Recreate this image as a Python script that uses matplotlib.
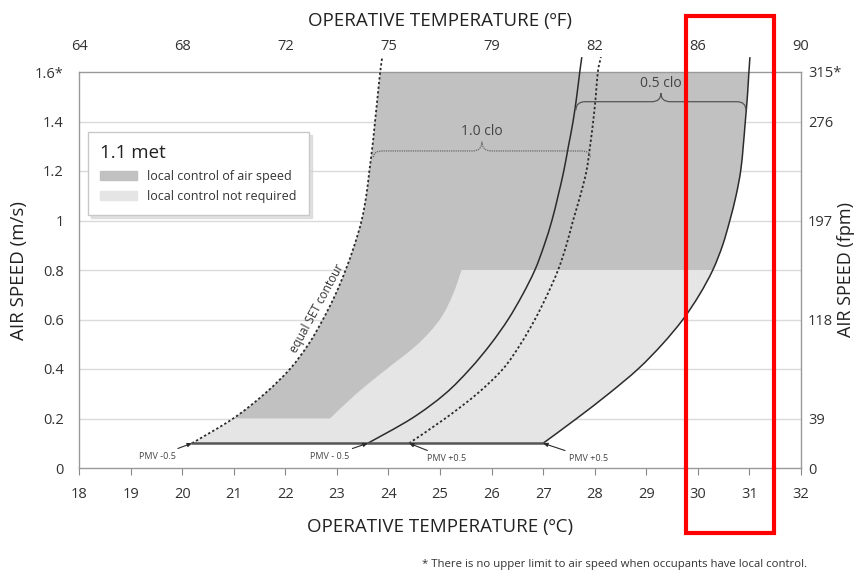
import numpy as np
import matplotlib
matplotlib.use("Agg")
import matplotlib.pyplot as plt
from matplotlib.patches import Patch, Rectangle, PathPatch
from matplotlib.path import Path

plt.rcParams['font.family'] = ['Open Sans', 'DejaVu Sans']

# air speed levels (m/s) at which the comfort curves were read; 1.66 is the stub above the frame
speed = [0.1, 0.2, 0.3, 0.4, 0.5, 0.6, 0.7, 0.8, 0.9, 1.0, 1.1, 1.2, 1.3, 1.4, 1.5, 1.6, 1.66]

# operative temperature (C) of each curve
set_contour = [20.19, 20.99, 21.60, 22.09, 22.45, 22.73, 22.97, 23.17, 23.34, 23.48,
               23.57, 23.63, 23.69, 23.74, 23.79, 23.84, 23.88]          # 1.0 clo, PMV -0.5
pmv_lo_05clo = [23.60, 24.45, 25.10, 25.58, 25.98, 26.32, 26.60, 26.84, 27.02, 27.17,
                27.29, 27.40, 27.49, 27.58, 27.65, 27.71, 27.75]          # 0.5 clo, PMV -0.5
pmv_hi_10clo = [24.40, 25.10, 25.72, 26.22, 26.56, 26.84, 27.08, 27.29, 27.45, 27.58,
                27.72, 27.84, 27.91, 27.97, 28.02, 28.06, 28.12]          # 1.0 clo, PMV +0.5
pmv_hi_05clo = [27.00, 27.65, 28.27, 28.84, 29.31, 29.71, 30.03, 30.29, 30.48, 30.62,
                30.74, 30.83, 30.88, 30.92, 30.96, 30.99, 31.01]          # 0.5 clo, PMV +0.5

# edge between "local control" and "not required" areas
inner_speed = [0.2, 0.3, 0.4, 0.5, 0.6, 0.7, 0.8]
inner_temp = [22.87, 23.38, 23.97, 24.57, 25.00, 25.25, 25.42]

BASE_SPEED = 0.1     # lower limit of the zone
CONTROL_SPEED = 0.8  # top of the "not required" area

pmv_labels = ['PMV -0.5', 'PMV - 0.5', 'PMV +0.5', 'PMV +0.5']

x_ticks = list(range(18, 33))
f_ticks_c = [18, 20, 22, 24, 26, 28, 30, 32]
f_labels = ['64', '68', '72', '75', '79', '82', '86', '90']
y_ticks = [0, 0.2, 0.4, 0.6, 0.8, 1.0, 1.2, 1.4, 1.6]
y_labels = ['0', '0.2', '0.4', '0.6', '0.8', '1', '1.2', '1.4', '1.6*']
fpm_ticks = [0, 0.2, 0.6, 1.0, 1.4, 1.6]
fpm_labels = ['0', '39', '118', '197', '276', '315*']

DARK = '#c1c1c1'
LIGHT = '#e5e5e5'
INK = '#2b2b2b'
TXT = '#333333'


def spline_segments(xs, ys):
    # smooth cubic pieces through the read points (Catmull-Rom -> Bezier)
    p = np.column_stack([xs, ys]).astype(float)
    ext = np.vstack([p[0], p, p[-1]])
    out = []
    for i in range(len(p) - 1):
        a, b, c, d = ext[i], ext[i + 1], ext[i + 2], ext[i + 3]
        out.append((b, b + (c - a) / 6, c - (d - b) / 6, c))
    return out


def reverse(segs):
    return [(s[3], s[2], s[1], s[0]) for s in segs[::-1]]


def build_path(parts, start=None, close=False):
    verts, codes = [], []
    if start is not None:
        verts.append(start)
        codes.append(Path.MOVETO)
    for part in parts:
        verts.append(part[0][0])
        codes.append(Path.LINETO if verts[:-1] else Path.MOVETO)
        for s in part:
            verts += [s[1], s[2], s[3]]
            codes += [Path.CURVE4] * 3
    if close:
        verts.append(verts[0])
        codes.append(Path.CLOSEPOLY)
    return Path(verts, codes)


fig = plt.figure(figsize=(8.59, 5.73), dpi=100)
ax = fig.add_axes([79 / 859, 105 / 573, 722 / 859, 396 / 573])
ax.set_xlim(18, 32)
ax.set_ylim(0, 1.6)

# grid
for yv in y_ticks[1:-1]:
    ax.axhline(yv, color='#dadada', lw=1, zorder=0)

A = spline_segments(set_contour, speed)
B = spline_segments(pmv_lo_05clo, speed)
C = spline_segments(pmv_hi_10clo, speed)
D = spline_segments(pmv_hi_05clo, speed)
E = spline_segments(inner_temp, inner_speed)
k8 = speed.index(CONTROL_SPEED)

# light area: below 0.8 m/s, inside the PMV range
light = build_path([D[:k8], reverse(E), reverse(A[:1])],
                   start=(set_contour[0], BASE_SPEED), close=True)
ax.add_patch(PathPatch(light, fc=LIGHT, lw=0, zorder=1))

# dark area: needs local control of air speed
dark = build_path([A[1:], reverse(D[k8:]), reverse(E)], close=True)
ax.add_patch(PathPatch(dark, fc=DARK, lw=0, zorder=1))

# curves
dots = (0, (1.3, 1.3))
for segs, style, lw in [(A, dots, 1.3), (C, dots, 1.3), (B, '-', 1.1), (D, '-', 1.1)]:
    ax.add_patch(PathPatch(build_path([segs]), fill=False, ec=INK, lw=lw, ls=style,
                           zorder=3, clip_on=False))
ax.plot([set_contour[0], pmv_hi_05clo[0]], [BASE_SPEED, BASE_SPEED],
        color='#555555', lw=1.8, zorder=3)

# PMV call-outs
offsets = [(-35, -13), (-38, -13), (38, -15), (45, -15)]
pmv_x = [set_contour[0], pmv_lo_05clo[0], pmv_hi_10clo[0], pmv_hi_05clo[0]]
for lab, xp, off in zip(pmv_labels, pmv_x, offsets):
    ax.annotate(lab, xy=(xp, BASE_SPEED), xytext=off, textcoords='offset pixels',
                ha='center', va='center', fontsize=6.5, color='#444444', zorder=5,
                arrowprops=dict(arrowstyle='-|>,head_length=0.4,head_width=0.18',
                                color=INK, lw=0.8, shrinkA=1, shrinkB=0))


def brace(x0, x1, y, depth, height, r, **kw):
    xm = (x0 + x1) / 2
    verts = [(x0, y - depth), (x0, y), (x0 + r, y),
             (xm - r, y), (xm, y), (xm, y + height),
             (xm, y), (xm + r, y),
             (x1 - r, y), (x1, y), (x1, y - depth)]
    codes = [Path.MOVETO, Path.CURVE3, Path.CURVE3,
             Path.LINETO, Path.CURVE3, Path.CURVE3,
             Path.CURVE3, Path.CURVE3,
             Path.LINETO, Path.CURVE3, Path.CURVE3]
    ax.add_patch(PathPatch(Path(verts, codes), fill=False, zorder=4, **kw))
    return xm


y10 = 1.281
xm = brace(np.interp(y10, speed, set_contour) + 0.03, np.interp(y10, speed, pmv_hi_10clo) + 0.02,
           y10, 0.025, 0.037, 0.18, ec='#666666', lw=0.9, ls=(0, (1, 0.8)))
ax.text(xm, y10 + 0.05, '1.0 clo', ha='center', va='bottom', fontsize=10, color='#444444', zorder=5)

y05 = 1.48
xm = brace(np.interp(y05, speed, pmv_lo_05clo), np.interp(y05, speed, pmv_hi_05clo) - 0.02,
           y05, 0.034, 0.034, 0.18, ec='#555555', lw=0.9)
ax.text(xm, y05 + 0.045, '0.5 clo', ha='center', va='bottom', fontsize=10, color='#444444', zorder=5)

ax.text(22.62, 0.646, 'equal SET contour', rotation=61.4, rotation_mode='anchor',
        ha='center', va='center', fontsize=8.5, color='#333333', zorder=5)

# axes styling
for s in ax.spines.values():
    s.set_color('#999999')
    s.set_linewidth(1)
ax.set_xticks(x_ticks)
ax.set_xticklabels([str(t) for t in x_ticks])
ax.set_yticks(y_ticks)
ax.set_yticklabels(y_labels)
ax.tick_params(axis='x', length=5, color='#888888', pad=9, labelsize=10.5, labelcolor=TXT)
ax.tick_params(axis='y', length=0, pad=11, labelsize=10.5, labelcolor=TXT)
ax.set_xlabel('OPERATIVE TEMPERATURE (ºC)', fontsize=13.5, color='#222222', labelpad=11)
ax.set_ylabel('AIR SPEED (m/s)', fontsize=13.5, color='#222222', labelpad=5)

top = ax.secondary_xaxis('top')
top.set_xticks(f_ticks_c)
top.set_xticklabels(f_labels)
top.tick_params(length=0, pad=13, labelsize=10.5, labelcolor=TXT)
top.set_xlabel('OPERATIVE TEMPERATURE (ºF)', fontsize=13.5, color='#222222', labelpad=9)
top.spines['top'].set_visible(False)

right = ax.secondary_yaxis('right')
right.set_yticks(fpm_ticks)
right.set_yticklabels(fpm_labels)
right.tick_params(length=0, pad=5, labelsize=10.5, labelcolor=TXT)
right.spines['right'].set_visible(False)
fig.text(846 / 859, 1 - 270 / 573, 'AIR SPEED (fpm)', rotation=90, ha='center', va='center',
         fontsize=13, color='#222222')

# legend
handles = [Patch(color=DARK, label='local control of air speed'),
           Patch(color=LIGHT, label='local control not required')]
leg = ax.legend(handles=handles, title='1.1 met', loc='upper left',
                bbox_to_anchor=(0.0125, 0.848), borderaxespad=0,
                fontsize=9.0, title_fontsize=13.5,
                alignment='left', handlelength=3.0, handleheight=0.75, handletextpad=0.8,
                labelspacing=0.6, borderpad=0.95, fancybox=False, framealpha=1,
                edgecolor='#c8c8c8', shadow={'color': '#d0d0d0', 'alpha': 0.6})
for t in leg.get_texts():
    t.set_color('#333333')
leg.get_title().set_color('#222222')
leg.set_zorder(6)

fig.text(807 / 859, 1 - 565 / 573,
         '* There is no upper limit to air speed when occupants have local control.',
         ha='right', va='center', fontsize=8.2, color='#333333')

# highlight frame
fig.add_artist(Rectangle((686 / 859, 1 - 533 / 573), 88 / 859, 517 / 573,
                         transform=fig.transFigure, fill=False, ec='#ff0000', lw=3))

fig.savefig('out.png', dpi=100)
